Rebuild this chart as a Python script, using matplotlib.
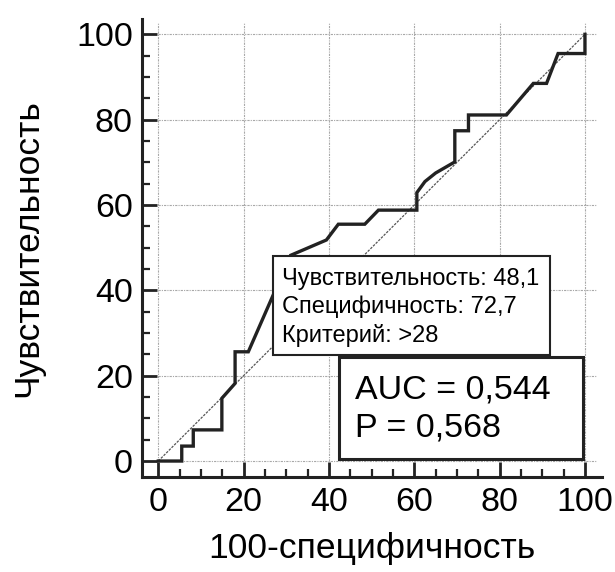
import matplotlib
matplotlib.use("Agg")
import matplotlib.pyplot as plt
from matplotlib.patches import Rectangle

plt.rcParams['font.family'] = ['Liberation Sans', 'DejaVu Sans']

# ROC curve vertices (100-specificity, sensitivity)
fpr = [0, 5.5, 5.5, 8.2, 8.2, 14.9, 14.9, 18.0, 18.0, 21.1, 31.0, 39.4,
       42.2, 48.4, 51.6, 60.6, 60.6, 62.5, 65.0, 69.5, 69.5, 72.7, 72.7,
       81.6, 87.9, 91.0, 93.7, 100, 100]
tpr = [0, 0, 3.5, 3.5, 7.3, 7.3, 14.7, 18.2, 25.6, 25.6, 48.2, 51.8,
       55.5, 55.5, 58.8, 58.8, 62.9, 65.5, 67.5, 70.1, 77.4, 77.4, 81.1,
       81.1, 88.5, 88.5, 95.5, 95.5, 100]

ticks = [0, 20, 40, 60, 80, 100]
minor = [t for t in range(0, 101, 5) if t % 20]

info_lines = ["Чувствительность: 48,1", "Специфичность: 72,7", "Критерий: >28"]
auc_lines = ["AUC = 0,544", "P = 0,568"]

fig = plt.figure(figsize=(6.15, 5.72), dpi=100)
ax = fig.add_axes([0.2317, 0.1664, 0.7465, 0.7997])
ax.set_xlim(-3.7, 103.9)
ax.set_ylim(-3.7, 103.5)

# dotted grid, only over the 0..100 square
ax.hlines(ticks, 0, 102.7, colors='#a8a8a8', linestyles=(0, (2, 1, 1, 1)), lw=0.8, zorder=1)
ax.vlines(ticks, 0, 102.7, colors='#a8a8a8', linestyles=(0, (2, 1, 1, 1)), lw=0.8, zorder=1)

# reference diagonal
ax.plot([0, 100], [0, 100], color='#555555', lw=0.9, ls=(0, (2, 1)), zorder=2)
# ROC curve
ax.plot(fpr, tpr, color='#222222', lw=2.4, solid_joinstyle='miter', zorder=3)

for s in ['top', 'right']:
    ax.spines[s].set_visible(False)
for s in ['left', 'bottom']:
    ax.spines[s].set_linewidth(2.2)
    ax.spines[s].set_color('#222222')

ax.set_xticks(ticks)
ax.set_yticks(ticks)
ax.set_xticks(minor, minor=True)
ax.set_yticks(minor, minor=True)
ax.tick_params(which='major', direction='in', length=11, width=2, color='#222222',
               labelsize=24.5, pad=7)
ax.tick_params(which='minor', direction='in', length=6, width=1.6, color='#222222')

ax.set_xlabel("100-специфичность", fontsize=25.5, va='baseline')
ax.xaxis.set_label_coords(0.5, -0.1775)
ax.set_ylabel("Чувствительность", fontsize=25.5, va='center')
ax.yaxis.set_label_coords(-0.2505, 0.5)

# info box
fig.add_artist(Rectangle((0.4439, 0.3794), 0.4504, 0.1730, transform=fig.transFigure,
                         facecolor='white', edgecolor='#222222', lw=1.5, zorder=5))
for i, line in enumerate(info_lines):
    fig.text(0.4585, (572 - 285 - i * 28.3) / 572, line, fontsize=17,
             va='baseline', ha='left', zorder=6)

# AUC box
fig.add_artist(Rectangle((0.5512, 0.1976), 0.3968, 0.1783, transform=fig.transFigure,
                         facecolor='white', edgecolor='#222222', lw=2.2, zorder=5))
for i, line in enumerate(auc_lines):
    fig.text(0.5772, (572 - 398.3 - i * 38.4) / 572, line, fontsize=24.5,
             va='baseline', ha='left', zorder=6)

fig.savefig('out.png', dpi=100)
